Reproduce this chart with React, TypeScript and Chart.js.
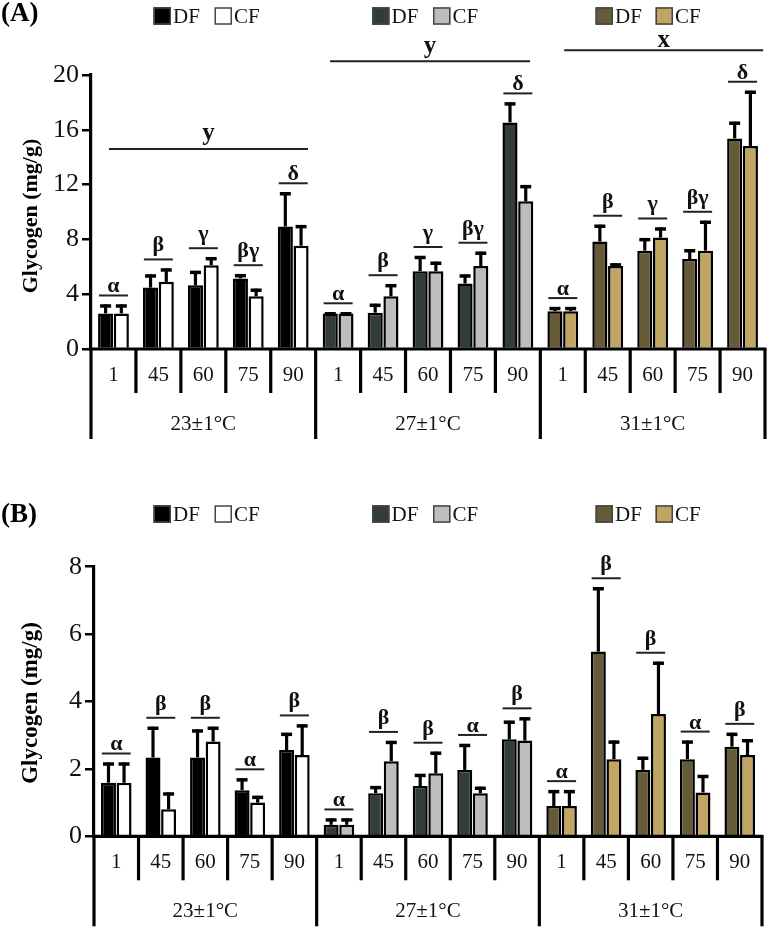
import React, { useEffect, useRef } from 'react';
import { Chart, registerables } from 'chart.js';

Chart.register(...registerables);

// ---------- data ----------
const days = ['1', '45', '60', '75', '90'];
const temps = ['23±1°C', '27±1°C', '31±1°C'];
const categories = temps.flatMap((t) => days.map((d) => `${d} (${t})`));

const dfColors = ['#000000', '#323c3c', '#675a38'];
const cfColors = ['#ffffff', '#bdbdbd', '#c1a663'];

// Panel A
const dfA = [2.6, 4.48, 4.65, 5.15, 8.94, 2.6, 2.65, 5.68, 4.78, 16.54, 2.76, 7.84, 7.18, 6.57, 15.37];
const dfAErr = [0.65, 0.96, 1.05, 0.31, 2.5, 0.08, 0.65, 1.11, 0.66, 1.46, 0.3, 1.23, 0.91, 0.71, 1.22];
const cfA = [2.6, 4.9, 6.12, 3.85, 7.54, 2.6, 3.85, 5.68, 6.05, 10.78, 2.76, 6.05, 8.13, 7.18, 14.82];
const cfAErr = [0.65, 0.98, 0.58, 0.55, 1.5, 0.08, 0.88, 0.69, 1.05, 1.18, 0.3, 0.2, 0.74, 2.18, 4.03];
const lettersA = ['α', 'β', 'γ', 'βγ', 'δ', 'α', 'β', 'γ', 'βγ', 'δ', 'α', 'β', 'γ', 'βγ', 'δ'];
const groupLettersA = ['y', 'y', 'x'];
const groupLineValuesA = [14.6, 21.0, 21.8];

// Panel B
const dfB = [1.59, 2.34, 2.34, 1.37, 2.56, 0.34, 1.28, 1.49, 1.97, 2.88, 0.9, 5.48, 1.97, 2.29, 2.66];
const dfBErr = [0.6, 0.91, 0.83, 0.35, 0.51, 0.19, 0.21, 0.36, 0.77, 0.55, 0.47, 1.91, 0.39, 0.55, 0.41];
const cfB = [1.59, 0.8, 2.81, 1.0, 2.41, 0.34, 2.23, 1.87, 1.28, 2.84, 0.9, 2.29, 3.63, 1.3, 2.41];
const cfBErr = [0.6, 0.5, 0.44, 0.2, 0.91, 0.19, 0.6, 0.64, 0.19, 0.69, 0.47, 0.55, 1.55, 0.52, 0.47];
const lettersB = ['α', 'β', 'β', 'α', 'β', 'α', 'β', 'β', 'α', 'β', 'α', 'β', 'β', 'α', 'β'];

const SERIF = "'Liberation Serif', 'Times New Roman', serif";

type Panel = {
  tag: string;
  top: number;
  height: number;
  max: number;
  step: number;
  df: number[];
  dfErr: number[];
  cf: number[];
  cfErr: number[];
  letters: string[];
  padTop: number;
  padBottom: number;
  padRight: number;
  axisW: number;
  tagY: number;
  legendY: number;
  titleY: number;
  titleSize: number;
  groupLetters?: string[];
  groupLineValues?: number[];
  groupSpans?: number[][];
};

const panels: Panel[] = [
  {
    tag: '(A)', top: 0, height: 460, max: 20, step: 4,
    df: dfA, dfErr: dfAErr, cf: cfA, cfErr: cfAErr, letters: lettersA,
    padTop: 75, padBottom: 111, padRight: 5, axisW: 91,
    tagY: 14, legendY: 16, titleY: 216, titleSize: 22,
    groupLetters: groupLettersA, groupLineValues: groupLineValuesA,
    groupSpans: [[-0.1, 4.33], [4.82, 9.27], [10.03, 14.46]],
  },
  {
    tag: '(B)', top: 470, height: 459, max: 8, step: 2,
    df: dfB, dfErr: dfBErr, cf: cfB, cfErr: cfBErr, letters: lettersB,
    padTop: 96.7, padBottom: 92.7, padRight: 8, axisW: 94,
    tagY: 45, legendY: 44, titleY: 233, titleSize: 23,
  },
];

const legendSquares = [153.5, 214.5, 372, 433, 595.5, 655.5];

function drawTextOnLine(ctx: CanvasRenderingContext2D, text: string, x: number, lineY: number, gap: number) {
  const m = ctx.measureText(text);
  const desc = m.actualBoundingBoxDescent || 0;
  ctx.textAlign = 'center';
  ctx.textBaseline = 'alphabetic';
  ctx.fillText(text, x, lineY - gap - desc);
}

function makePlugin(p: Panel) {
  return {
    id: 'panelDecor' + p.tag,
    afterDatasetsDraw(chart: any) {
      const ctx: CanvasRenderingContext2D = chart.ctx;
      const { left, right, bottom } = chart.chartArea;
      const ys = chart.scales.y;
      const n = categories.length;
      const w = (right - left) / n;
      ctx.save();

      // error bars
      const sets: [number[], number[]][] = [[p.df, p.dfErr], [p.cf, p.cfErr]];
      const tops: number[][] = [[], []];
      const xs: number[][] = [[], []];
      sets.forEach(([vals, errs], d) => {
        const meta = chart.getDatasetMeta(d);
        meta.data.forEach((bar: any, i: number) => {
          const x = bar.x;
          const y0 = ys.getPixelForValue(vals[i]);
          const y1 = ys.getPixelForValue(vals[i] + errs[i]);
          tops[d][i] = y1;
          xs[d][i] = x;
          ctx.strokeStyle = '#000';
          ctx.lineCap = 'butt';
          ctx.lineWidth = 3.2;
          ctx.beginPath();
          ctx.moveTo(x, y0);
          ctx.lineTo(x, y1);
          ctx.stroke();
          ctx.lineWidth = 3.5;
          ctx.beginPath();
          ctx.moveTo(x - 5.5, y1 + 1.5);
          ctx.lineTo(x + 5.5, y1 + 1.5);
          ctx.stroke();
        });
      });

      // significance letters
      ctx.font = `bold 22px ${SERIF}`;
      ctx.fillStyle = '#111';
      for (let i = 0; i < n; i++) {
        const cx = (xs[0][i] + xs[1][i]) / 2;
        const ly = Math.min(tops[0][i], tops[1][i]) - 9;
        ctx.strokeStyle = '#222';
        ctx.lineWidth = 2;
        ctx.beginPath();
        ctx.moveTo(cx - 14.5, ly);
        ctx.lineTo(cx + 14.5, ly);
        ctx.stroke();
        drawTextOnLine(ctx, p.letters[i], cx, ly - 1, 2);
      }

      // group letters (panel A)
      if (p.groupLetters && p.groupLineValues && p.groupSpans) {
        ctx.font = `bold 25px ${SERIF}`;
        p.groupLetters.forEach((t, g) => {
          const span = p.groupSpans![g];
          const x0 = left + (span[0] + 0.5) * w;
          const x1 = left + (span[1] + 0.5) * w;
          const y = ys.getPixelForValue(p.groupLineValues![g]);
          ctx.strokeStyle = '#222';
          ctx.lineWidth = 2;
          ctx.beginPath();
          ctx.moveTo(x0, y);
          ctx.lineTo(x1, y);
          ctx.stroke();
          drawTextOnLine(ctx, t, (x0 + x1) / 2, y - 1, 2.5);
        });
      }

      // x-axis baseline
      ctx.strokeStyle = '#000';
      ctx.lineWidth = 3.2;
      ctx.beginPath();
      ctx.moveTo(left - 1.5, bottom);
      ctx.lineTo(right + 1.5, bottom);
      ctx.stroke();

      // dividers
      for (let k = 0; k <= n; k++) {
        const x = left + k * w;
        const len = k % 5 === 0 ? 90 : 44;
        ctx.lineWidth = 3.2;
        ctx.beginPath();
        ctx.moveTo(x, bottom);
        ctx.lineTo(x, bottom + len);
        ctx.stroke();
      }

      // day labels
      ctx.fillStyle = '#111';
      ctx.font = `21px ${SERIF}`;
      ctx.textAlign = 'center';
      ctx.textBaseline = 'middle';
      for (let i = 0; i < n; i++) {
        ctx.fillText(days[i % 5], left + (i + 0.5) * w, bottom + 26);
      }
      // temperature labels
      temps.forEach((t, g) => {
        ctx.fillText(t, left + (g * 5 + 2.5) * w, bottom + 75);
      });

      ctx.restore();
    },
    afterDraw(chart: any) {
      const ctx: CanvasRenderingContext2D = chart.ctx;
      ctx.save();
      // panel tag
      ctx.fillStyle = '#000';
      ctx.font = `bold 27px ${SERIF}`;
      ctx.textAlign = 'left';
      ctx.textBaseline = 'middle';
      ctx.fillText(p.tag, 1, p.tagY);

      // legend
      const size = 17.5;
      legendSquares.forEach((sx, k) => {
        const g = Math.floor(k / 2);
        const isDF = k % 2 === 0;
        ctx.fillStyle = isDF ? dfColors[g] : cfColors[g];
        ctx.fillRect(sx, p.legendY - size / 2, size, size);
        ctx.strokeStyle = '#444';
        ctx.lineWidth = 1.5;
        ctx.strokeRect(sx + 0.75, p.legendY - size / 2 + 0.75, size - 1.5, size - 1.5);
        ctx.fillStyle = '#111';
        ctx.font = `21px ${SERIF}`;
        ctx.textAlign = 'left';
        ctx.textBaseline = 'middle';
        ctx.fillText(isDF ? 'DF' : 'CF', sx + size + 2, p.legendY + 1);
      });

      // y-axis title
      ctx.translate(31.5, p.titleY);
      ctx.rotate(-Math.PI / 2);
      ctx.font = `bold ${p.titleSize}px ${SERIF}`;
      ctx.fillStyle = '#000';
      ctx.textAlign = 'center';
      ctx.textBaseline = 'middle';
      ctx.fillText('Glycogen (mg/g)', 0, 0);
      ctx.restore();
    },
  };
}

function PanelChart({ p }: { p: Panel }) {
  const ref = useRef<HTMLCanvasElement | null>(null);
  useEffect(() => {
    if (!ref.current) return;
    const colorOf = (arr: string[]) => categories.map((_, i) => arr[Math.floor(i / 5)]);
    const chart = new Chart(ref.current, {
      type: 'bar',
      data: {
        labels: categories,
        datasets: [
          {
            label: 'DF',
            data: p.df,
            backgroundColor: colorOf(dfColors),
            borderColor: '#000',
            borderWidth: 2.5,
            categoryPercentage: 0.7,
            barPercentage: 0.96,
          },
          {
            label: 'CF',
            data: p.cf,
            backgroundColor: colorOf(cfColors),
            borderColor: '#000',
            borderWidth: 2.5,
            categoryPercentage: 0.7,
            barPercentage: 0.96,
          },
        ],
      },
      options: {
        responsive: false,
        animation: false,
        devicePixelRatio: 1,
        layout: { padding: { top: p.padTop, bottom: p.padBottom, left: 0, right: p.padRight } },
        plugins: { legend: { display: false }, tooltip: { enabled: false } },
        scales: {
          x: { display: false },
          y: {
            min: 0,
            max: p.max,
            ticks: {
              stepSize: p.step,
              color: '#111',
              padding: 3,
              font: { family: SERIF, size: 26 },
            },
            grid: {
              drawOnChartArea: false,
              drawTicks: true,
              tickLength: 9,
              color: '#000',
              lineWidth: 2.5,
            },
            border: { display: true, color: '#000', width: 3.2 },
            afterFit: (s: any) => {
              s.width = p.axisW;
            },
          },
        },
      },
      plugins: [makePlugin(p)],
    } as any);
    return () => chart.destroy();
  }, [p]);
  return (
    <canvas
      ref={ref}
      width={770}
      height={p.height}
      style={{ position: 'absolute', left: 0, top: p.top, width: 770, height: p.height, display: 'block' }}
    />
  );
}

export default function App() {
  return (
    <div style={{ position: 'absolute', left: 0, top: 0, width: 770, height: 929, background: '#fff' }}>
      {panels.map((p) => (
        <PanelChart key={p.tag} p={p} />
      ))}
    </div>
  );
}
